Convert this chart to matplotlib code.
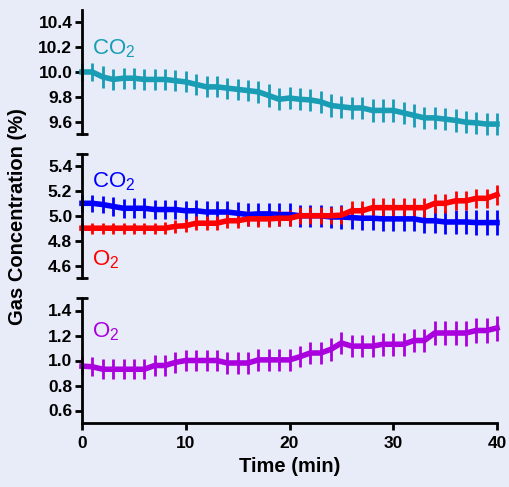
import matplotlib
matplotlib.use("Agg")
import matplotlib.pyplot as plt
import numpy as np

plt.rcParams['font.family'] = ['Liberation Sans', 'DejaVu Sans']
plt.rcParams['mathtext.fontset'] = 'custom'
plt.rcParams['mathtext.rm'] = 'Liberation Sans'

time = list(range(0, 41))

co2_high = [10.00, 10.00, 9.96, 9.94, 9.95, 9.95, 9.94, 9.94, 9.94, 9.93,
            9.92, 9.90, 9.88, 9.88, 9.87, 9.86, 9.85, 9.84, 9.81, 9.78,
            9.79, 9.78, 9.775, 9.76, 9.73, 9.72, 9.71, 9.71, 9.69, 9.69,
            9.69, 9.67, 9.65, 9.63, 9.63, 9.62, 9.61, 9.595, 9.59, 9.58, 9.58]
co2_high_err = [0.075, 0.07, 0.085, 0.085, 0.085, 0.085, 0.085, 0.085, 0.085, 0.085,
                0.085, 0.085, 0.085, 0.085, 0.085, 0.085, 0.085, 0.09, 0.09, 0.09,
                0.09, 0.09, 0.09, 0.09, 0.09, 0.09, 0.09, 0.09, 0.09, 0.09,
                0.09, 0.09, 0.09, 0.09, 0.09, 0.09, 0.09, 0.09, 0.09, 0.09, 0.09]

co2_mid = [5.10, 5.10, 5.09, 5.075, 5.06, 5.06, 5.06, 5.05, 5.05, 5.05,
           5.04, 5.04, 5.03, 5.03, 5.03, 5.02, 5.01, 5.015, 5.015, 5.01,
           5.01, 5.00, 5.00, 5.00, 4.99, 4.99, 4.985, 4.98, 4.98, 4.975,
           4.975, 4.975, 4.975, 4.96, 4.96, 4.95, 4.95, 4.95, 4.945, 4.945, 4.945]
co2_mid_err = [0.07, 0.067, 0.07, 0.075, 0.075, 0.08, 0.08, 0.08, 0.08, 0.08,
               0.08, 0.085, 0.085, 0.085, 0.085, 0.09, 0.09, 0.09, 0.09, 0.09,
               0.09, 0.09, 0.09, 0.09, 0.09, 0.095, 0.095, 0.095, 0.095, 0.095,
               0.095, 0.095, 0.095, 0.1, 0.1, 0.1, 0.1, 0.1, 0.1, 0.1, 0.1]

o2_mid = [4.90, 4.90, 4.90, 4.90, 4.90, 4.90, 4.90, 4.90, 4.90, 4.915,
          4.92, 4.94, 4.94, 4.94, 4.96, 4.96, 4.975, 4.975, 4.975, 4.98,
          4.98, 5.00, 5.00, 5.00, 5.00, 5.005, 5.04, 5.04, 5.065, 5.065,
          5.065, 5.065, 5.065, 5.065, 5.10, 5.10, 5.12, 5.12, 5.14, 5.14, 5.17]
o2_mid_err = [0.045, 0.045, 0.045, 0.045, 0.045, 0.045, 0.045, 0.045, 0.05, 0.05,
              0.05, 0.055, 0.055, 0.055, 0.06, 0.06, 0.06, 0.065, 0.065, 0.065,
              0.065, 0.07, 0.07, 0.07, 0.07, 0.07, 0.075, 0.075, 0.075, 0.075,
              0.075, 0.075, 0.075, 0.075, 0.075, 0.075, 0.075, 0.075, 0.075, 0.075, 0.08]

o2_low = [0.955, 0.95, 0.93, 0.93, 0.93, 0.93, 0.93, 0.96, 0.96, 0.985,
          1.00, 1.00, 1.00, 1.00, 0.98, 0.98, 0.98, 1.005, 1.005, 1.005,
          1.005, 1.03, 1.06, 1.06, 1.09, 1.14, 1.115, 1.115, 1.115, 1.13,
          1.13, 1.13, 1.16, 1.16, 1.22, 1.22, 1.22, 1.22, 1.24, 1.24, 1.26]
o2_low_err = [0.07, 0.075, 0.08, 0.08, 0.08, 0.08, 0.08, 0.085, 0.085, 0.085,
              0.085, 0.085, 0.085, 0.085, 0.085, 0.085, 0.085, 0.085, 0.085, 0.085,
              0.085, 0.085, 0.09, 0.09, 0.09, 0.09, 0.09, 0.09, 0.09, 0.09,
              0.09, 0.09, 0.09, 0.09, 0.095, 0.095, 0.095, 0.1, 0.1, 0.1, 0.1]

x_ticks = [0, 10, 20, 30, 40]
top_ticks = [9.6, 9.8, 10.0, 10.2, 10.4]
mid_ticks = [4.6, 4.8, 5.0, 5.2, 5.4]
low_ticks = [0.6, 0.8, 1.0, 1.2, 1.4]

BG = '#e8ecf8'
TEAL = '#189db5'
BLUE = '#0000ff'
RED = '#ff0000'
PURPLE = '#aa00dd'

W, H = 509, 487
fig = plt.figure(figsize=(W / 100, H / 100), dpi=100)
fig.patch.set_facecolor(BG)

left = 82 / W
width = 415 / W

def make_ax(top_px, bot_px):
    ax = fig.add_axes([left, 1 - bot_px / H, width, (bot_px - top_px) / H])
    ax.set_facecolor('none')
    for s in ['top', 'right']:
        ax.spines[s].set_visible(False)
    ax.spines['left'].set_linewidth(2)
    ax.tick_params(axis='y', direction='out', length=5, width=2, labelsize=12.5, pad=2)
    ax.tick_params(axis='y', which='minor', direction='inout', length=8, width=2)
    ax.set_xlim(0, 40)
    return ax

def series(ax, y, e, color):
    ax.errorbar(time, y, yerr=e, color=color, lw=4, elinewidth=2, capsize=0,
                clip_on=False)

ax1 = make_ax(10, 134)
ax2 = make_ax(153.5, 278)
ax3 = make_ax(298, 423)

for ax, ticks, lim, caps in [(ax1, top_ticks, (9.5, 10.5), [9.5]),
                             (ax2, mid_ticks, (4.5, 5.5), [4.5, 5.5]),
                             (ax3, low_ticks, (0.5, 1.5), [1.5])]:
    ax.set_ylim(*lim)
    ax.set_yticks(ticks)
    ax.set_yticklabels([f'{t:.1f}' for t in ticks], fontweight='bold', fontsize=12.5)
    ax.set_yticks(caps, minor=True)

for ax in (ax1, ax2):
    ax.spines['bottom'].set_visible(False)
    ax.set_xticks([])

ax3.spines['bottom'].set_linewidth(2)
ax3.set_xticks(x_ticks)
ax3.set_xticklabels([str(t) for t in x_ticks], fontweight='bold', fontsize=12.5)
ax3.tick_params(axis='x', direction='out', length=5, width=2, pad=4)

series(ax1, co2_high, co2_high_err, TEAL)
series(ax2, co2_mid, co2_mid_err, BLUE)
series(ax2, o2_mid, o2_mid_err, RED)
series(ax3, o2_low, o2_low_err, PURPLE)

lab = r'CO$_\mathregular{2}$'
ax1.text(1.0, 10.19, lab, color=TEAL, fontsize=16, va='center', ha='left')
ax2.text(1.0, 5.27, lab, color=BLUE, fontsize=16, va='center', ha='left')
ax2.text(1.0, 4.65, r'O$_\mathregular{2}$', color=RED, fontsize=16, va='center', ha='left')
ax3.text(1.0, 1.23, r'O$_\mathregular{2}$', color=PURPLE, fontsize=16, va='center', ha='left')

ax3.set_xlabel('Time (min)', fontsize=14.5, fontweight='bold', labelpad=5)
fig.text(18 / W, 1 - 217 / H, 'Gas Concentration (%)', rotation=90, fontsize=14.5,
         fontweight='bold', ha='center', va='center')

fig.savefig('out.png', dpi=100, facecolor=BG)
